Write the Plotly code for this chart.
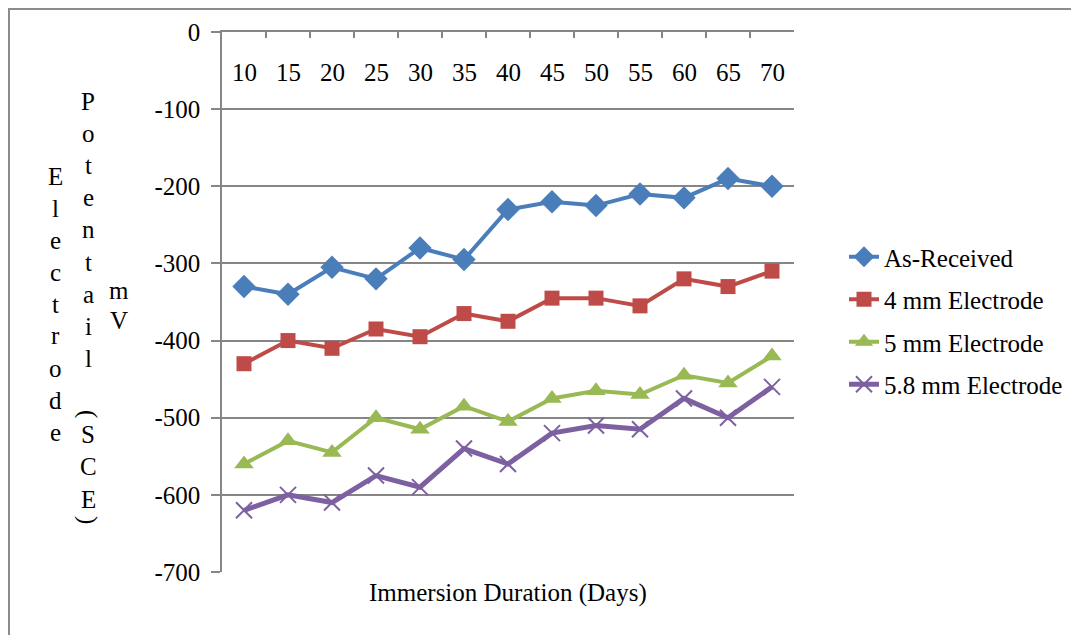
import plotly.graph_objects as go

days = ["10", "15", "20", "25", "30", "35", "40", "45", "50", "55", "60", "65", "70"]
as_received = [-330, -340, -305, -320, -280, -295, -230, -220, -225, -210, -215, -190, -200]
mm4 = [-430, -400, -410, -385, -395, -365, -375, -345, -345, -355, -320, -330, -310]
mm5 = [-560, -530, -545, -500, -515, -485, -505, -475, -465, -470, -445, -455, -420]
mm58 = [-620, -600, -610, -575, -590, -540, -560, -520, -510, -515, -475, -500, -460]
series_names = ["As-Received", "4 mm Electrode", "5 mm Electrode", "5.8 mm Electrode"]
y_ticks = [0, -100, -200, -300, -400, -500, -600, -700]
x_title = "Immersion Duration (Days)"
y_title_cols = ["Electrode", "Potentail", "(SCE)", "mV"]

FONT = "Liberation Serif"
FS = 25
OFF = 8  # page body margin
W, H = 1079 - OFF, 635 - OFF
L, R, T, B = 222 - OFF, 794 - OFF, 32 - OFF, 572 - OFF


def px(x):
    return (x - OFF - L) / (R - L)


def py(y):
    return (B - (y - OFF)) / (B - T)


fig = go.Figure()
styles = [
    dict(color="#4A7EBB", symbol="diamond", size=18, lw=4),
    dict(color="#BE4B48", symbol="square", size=15, lw=4),
    dict(color="#98B954", symbol="triangle-up", size=17, lw=4),
    dict(color="#7D60A0", symbol="x-thin", size=16, lw=5),
]
for name, vals, st in zip(series_names, [as_received, mm4, mm5, mm58], styles):
    marker = dict(symbol=st["symbol"], size=st["size"], color=st["color"])
    if st["symbol"] == "x-thin":
        marker["line"] = dict(color=st["color"], width=2)
    fig.add_trace(go.Scatter(
        x=days, y=vals, name=name, mode="lines+markers",
        line=dict(color=st["color"], width=st["lw"]),
        marker=marker, legendgroup=name,
    ))

annotations = []
# category labels below the top axis
for i, d in enumerate(days):
    annotations.append(dict(x=i, xref="x", y=py(72), yref="paper", text=d,
                            showarrow=False, font=dict(family=FONT, size=FS, color="black"),
                            xanchor="center", yanchor="middle"))
# x title
annotations.append(dict(x=0.5, xref="paper", y=py(593), yref="paper", text=x_title,
                        showarrow=False, font=dict(family=FONT, size=FS, color="black"),
                        xanchor="center", yanchor="middle"))


def letter(ch, x, y, angle=0):
    annotations.append(dict(x=px(x), xref="paper", y=py(y), yref="paper", text=ch,
                            showarrow=False, textangle=angle,
                            font=dict(family=FONT, size=FS, color="black"),
                            xanchor="center", yanchor="middle"))


for i, ch in enumerate(y_title_cols[0]):
    letter(ch, 55, 176 + 32 * i)
for i, ch in enumerate(y_title_cols[1]):
    letter(ch, 88, 101 + 32.2 * i)
sce = y_title_cols[2]
letter(sce[0], 88, 414, 90)
for i, ch in enumerate(sce[1:-1]):
    letter(ch, 88, 434 + 32.5 * i)
letter(sce[-1], 88, 520, 90)
for i, ch in enumerate(y_title_cols[3]):
    letter(ch, 119, 290 + 30 * i)

shapes = [dict(type="rect", xref="paper", yref="paper",
               x0=px(9), x1=px(1100), y0=py(9), y1=py(660),
               line=dict(color="#8C8C8C", width=2), fillcolor="rgba(0,0,0,0)", layer="below")]

fig.update_layout(
    width=W, height=H,
    margin=dict(l=L, r=W - R, t=T, b=H - B, autoexpand=False),
    paper_bgcolor="white", plot_bgcolor="white",
    font=dict(family=FONT, size=FS, color="black"),
    showlegend=True,
    legend=dict(x=px(844), y=py(234), xanchor="left", yanchor="top",
                font=dict(family=FONT, size=FS, color="black"),
                tracegroupgap=7, bgcolor="rgba(0,0,0,0)"),
    annotations=annotations,
    shapes=shapes,
    xaxis=dict(type="category", side="top", range=[-0.5, 12.5],
               showticklabels=False, ticks="inside", ticklen=6, tickson="boundaries",
               tickcolor="#868686", tickwidth=1.5,
               showline=True, linecolor="#868686", linewidth=1.5,
               showgrid=False, zeroline=False),
    yaxis=dict(range=[-700, 0], tickvals=y_ticks, ticktext=[str(v) for v in y_ticks],
               ticks="outside", ticklen=9, tickcolor="#868686", tickwidth=1.5,
               ticklabelstandoff=6,
               showline=True, linecolor="#868686", linewidth=1.5,
               showgrid=True, gridcolor="#868686", gridwidth=1.5,
               zeroline=False, tickfont=dict(family=FONT, size=FS, color="black")),
)

fig.write_html("out.html")
